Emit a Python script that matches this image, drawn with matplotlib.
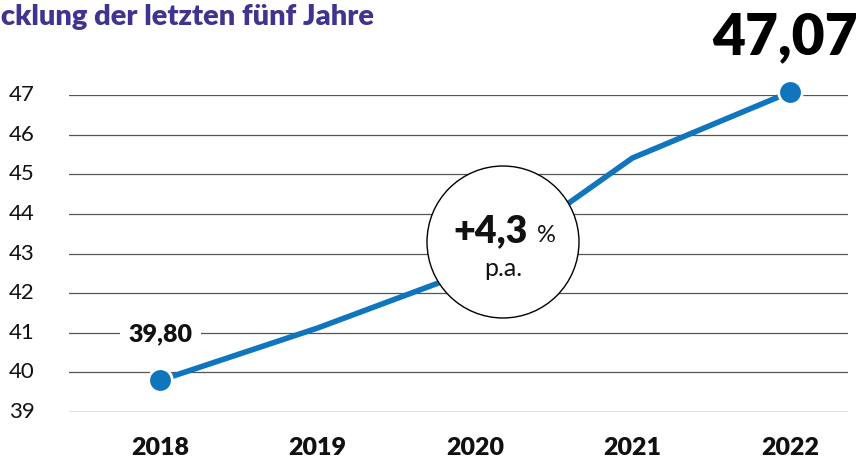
import matplotlib.pyplot as plt
from matplotlib.patches import Circle

years = [2018, 2019, 2020, 2021, 2022]
values = [39.80, 41.12, 42.6, 45.41, 47.07]
yticks = [39, 40, 41, 42, 43, 44, 45, 46, 47]
title = "Entwicklung der letzten fünf Jahre"
start_label = "39,80"
end_label = "47,07"
growth = "+4,3"

blue = "#0f75bc"
purple = "#3f3590"
plt.rcParams['font.family'] = ['Lato', 'DejaVu Sans']

fig = plt.figure(figsize=(8.58, 4.59), dpi=100)
W, H = 858, 459
ax = fig.add_axes([69 / W, 1 - 412 / H, (848 - 69) / W, (412 - 95) / H])
ax.set_xlim(2017.42, 2022.37)
ax.set_ylim(39, 47)
ax.axis('off')

# grid lines
for v in yticks:
    ax.axhline(v, color='black' if v == 39 else '#555555', lw=0.9, zorder=1)
    ax.text(-0.044, v, str(v), transform=ax.get_yaxis_transform(),
            ha='right', va='center', fontsize=16, color='#111111')

for y in years:
    ax.text(y, -0.115, str(y), transform=ax.get_xaxis_transform(),
            ha='center', va='center', fontsize=18, fontweight='heavy', color='#111111')

ax.plot(years, values, color=blue, lw=4, solid_capstyle='round', zorder=3, clip_on=False)
ax.plot([years[0], years[-1]], [values[0], values[-1]], 'o', color=blue, ms=17,
        mec='white', mew=2, zorder=4, clip_on=False)

ax.text(years[0], 40.97, start_label, ha='center', va='center', fontsize=18,
        fontweight='heavy', color='#111111', zorder=5,
        bbox=dict(facecolor='white', edgecolor='none', pad=6))

fig.text(785 / W, 1 - 37 / H, end_label, ha='center', va='center', fontsize=41,
         fontweight='heavy', color='black')

fig.text(374 / W, 1 - 17 / H, title, ha='right', va='center', fontsize=21,
         fontweight='heavy', color=purple)

circ = Circle((5.03, (H - 242) / 100), 0.76, transform=fig.dpi_scale_trans,
              facecolor='white', edgecolor='black', lw=1, zorder=6, clip_on=False)
ax.add_patch(circ)
fig.text(491 / W, 1 - 231 / H, growth, ha='center', va='center', fontsize=27,
         fontweight='heavy', color='#111111', zorder=7)
fig.text(546 / W, 1 - 236 / H, "%", ha='center', va='center', fontsize=17,
         color='#111111', zorder=7)
fig.text(503 / W, 1 - 268 / H, "p.a.", ha='center', va='center', fontsize=18,
         color='#111111', zorder=7)

fig.savefig('out.png', dpi=100)
